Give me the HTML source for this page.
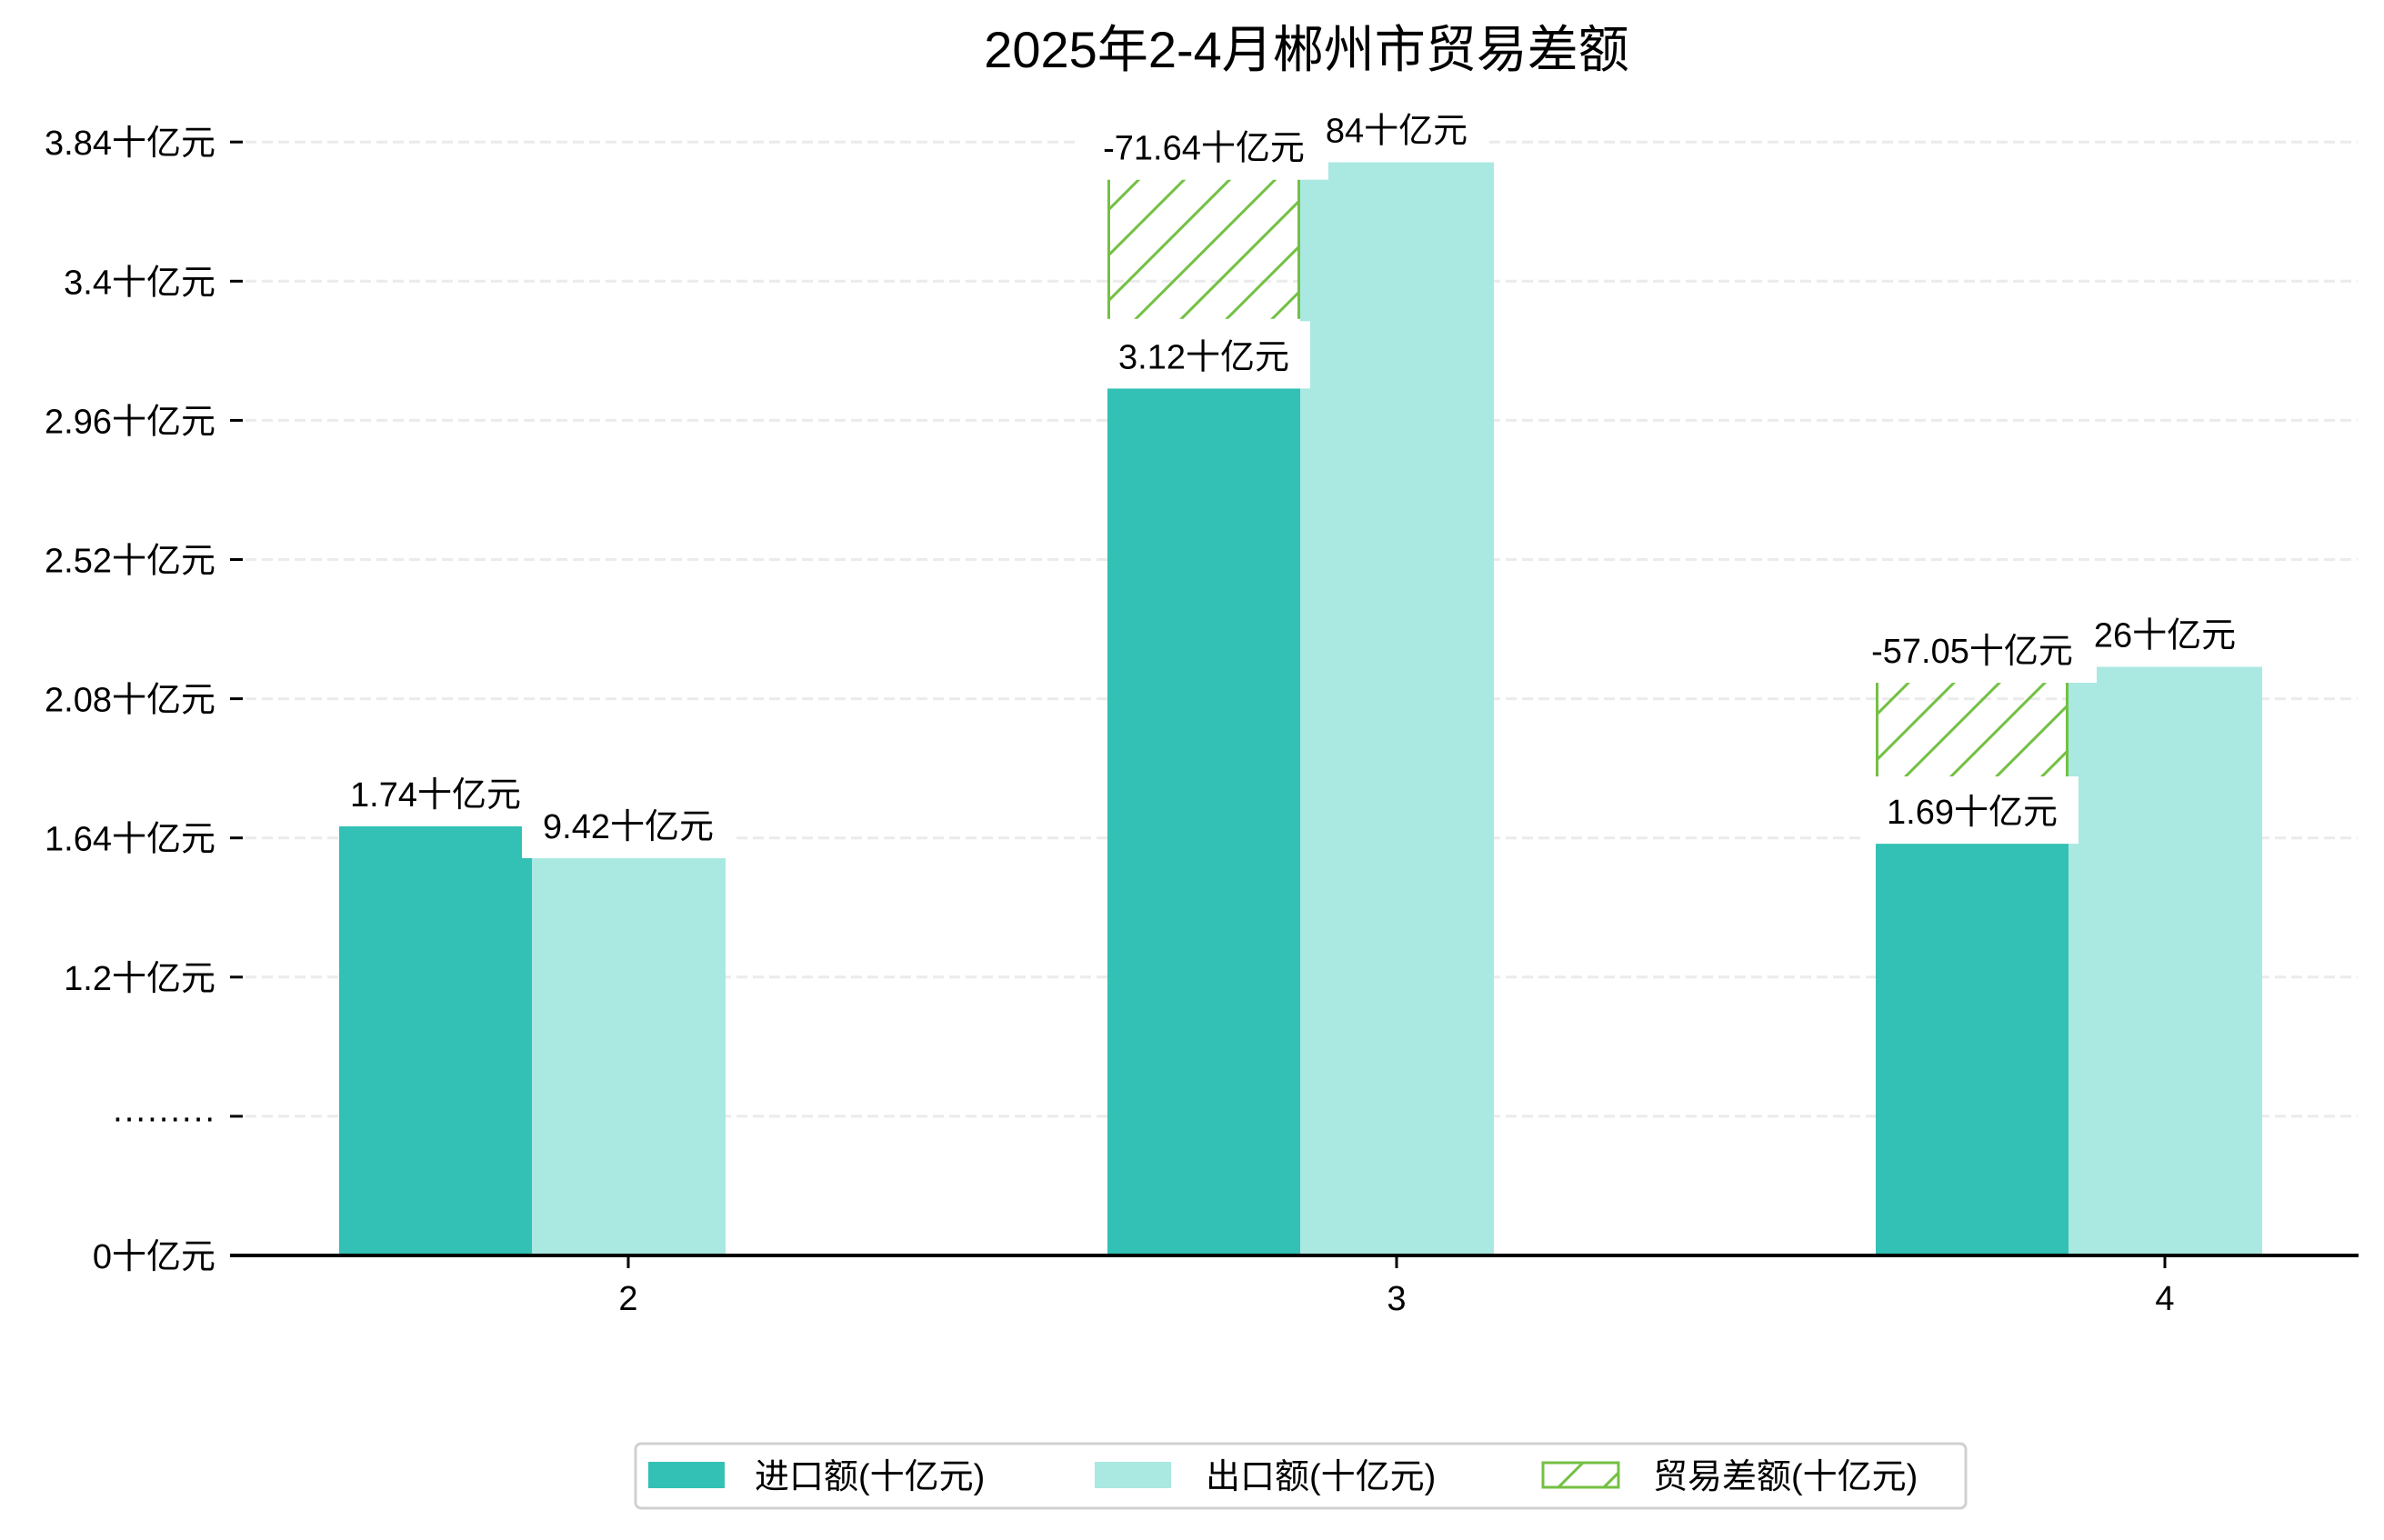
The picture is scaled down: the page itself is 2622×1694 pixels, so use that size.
<!DOCTYPE html>
<html><head><meta charset="utf-8"><style>
html,body{margin:0;padding:0;background:#fff}
svg text{font-family:"Liberation Sans","Noto Sans CJK SC",sans-serif}
</style></head><body>
<svg id="chart" width="2622" height="1689" xmlns="http://www.w3.org/2000/svg">
<defs>
<pattern id="hatch" patternUnits="userSpaceOnUse" width="50" height="50">
<path d="M-5,55 L55,-5 M-30,30 L30,-30 M20,80 L80,20" stroke="#74c043" stroke-width="3"/>
</pattern>
</defs>
<text x="1437" y="74" font-size="56" text-anchor="middle">2025年2-4月郴州市贸易差额</text>
<g id="grid"></g><g id="bars"></g><g id="labels"></g><g id="axes"></g>
<g>
<rect x="699" y="1588" width="1463" height="71" rx="6" fill="#fff" stroke="#d0d0d0" stroke-width="3"/>
<rect x="713" y="1608" width="84" height="29" fill="#32c1b4"/>
<text x="830" y="1637" font-size="38">进口额(十亿元)</text>
<rect x="1204" y="1608" width="84" height="29" fill="#aae8e2"/>
<text x="1326" y="1637" font-size="38">出口额(十亿元)</text>
<rect x="1697" y="1609" width="83" height="27" fill="url(#hatch)" stroke="#74c043" stroke-width="3"/>
<text x="1818" y="1637" font-size="38">贸易差额(十亿元)</text>
</g>
</svg>
<script>
const months = ["2","3","4"];
const importVals = [1.48, 2.99, 1.42];
const exportVals = [1.37, 3.77, 2.03];
const balanceTop = [null, 3.71, 1.975];
const balanceBottom = [null, 3.23, 1.646];
const importLabels = ["1.74十亿元","3.12十亿元","1.69十亿元"];
const exportLabels = ["9.42十亿元","84十亿元","26十亿元"];
const balanceLabels = [null,"-71.64十亿元","-57.05十亿元"];
const yTickLabels = ["0十亿元","·········","1.2十亿元","1.64十亿元","2.08十亿元","2.52十亿元","2.96十亿元","3.4十亿元","3.84十亿元"];
const yTickStep = 0.48;

const NS="http://www.w3.org/2000/svg";
const Y0=1381, PX_PER_TICK=153.1;
function y(v){return Y0 - v/yTickStep*PX_PER_TICK;}
function xTick(i){return 691 + i*845;}
function mk(tag,attrs,parent){const e=document.createElementNS(NS,tag);for(const k in attrs)e.setAttribute(k,attrs[k]);document.getElementById(parent).appendChild(e);return e;}

yTickLabels.forEach((t,i)=>{
  const v=i*yTickStep, yy=y(v);
  if(i>0){const g=mk('line',{x1:270,x2:2593,y1:yy,y2:yy,stroke:'#ebebeb','stroke-width':3,'stroke-dasharray':'12,6'},'grid');
  
  }
  const tm=mk('line',{x1:253,x2:267,y1:yy,y2:yy,stroke:'#000','stroke-width':3},'axes');
  
  
  const tx=mk('text',{x:237,y:yy+14,'font-size':38,'text-anchor':'end'},'axes');tx.textContent=t;
  
  
});
const ax=mk('line',{x1:253,x2:2594,y1:Y0,y2:Y0,stroke:'#000','stroke-width':4},'axes');



const BW=212;
function label(text,cx,top,boxBottom,name){
  const w=text.length*20+text.replace(/[0-9.\-·]/g,'').length*18+40;
  const r=mk('rect',{x:cx-w/2,y:top-74,width:w,height:boxBottom-(top-74),fill:'#fff'},'labels');
  
  
  const t=mk('text',{x:cx,y:top-22,'font-size':38,'text-anchor':'middle'},'labels');t.textContent=text;
  
  
}
months.forEach((m,i)=>{
  const cx=xTick(i);
  const ix=cx-318, ex=cx-106;
  const bi=mk('rect',{x:ix,y:y(importVals[i]),width:BW,height:Y0-y(importVals[i]),fill:'#32c1b4'},'bars');
  
  
  const be=mk('rect',{x:ex,y:y(exportVals[i]),width:BW+1,height:Y0-y(exportVals[i]),fill:'#aae8e2'},'bars');
  
  
  if(balanceTop[i]!==null){
    const t=y(balanceTop[i]), b=y(balanceBottom[i]);
    const bh=mk('rect',{x:ix,y:t,width:BW,height:b-t,fill:'url(#hatch)'},'bars');
    
    
    const l1=mk('line',{x1:ix+1.5,x2:ix+1.5,y1:t,y2:b,stroke:'#74c043','stroke-width':3},'bars');
    
    
    const l2=mk('line',{x1:ix+BW-1.5,x2:ix+BW-1.5,y1:t,y2:b,stroke:'#74c043','stroke-width':3},'bars');
    
    
  }
  const xt=mk('line',{x1:cx,x2:cx,y1:Y0,y2:Y0+14,stroke:'#000','stroke-width':3},'axes');
  
  
  const xl=mk('text',{x:cx,y:1441,'font-size':38,'text-anchor':'middle'},'axes');xl.textContent=m;
  
  
});
months.forEach((m,i)=>{
  const cx=xTick(i);
  const icx=cx-212, ecx=cx;
  if(balanceTop[i]!==null) label(balanceLabels[i],icx,y(balanceTop[i]),y(balanceTop[i]),'balance-label-'+m);
  label(importLabels[i],icx,y(importVals[i]),y(importVals[i]),'import-label-'+m);
  label(exportLabels[i],ecx,y(exportVals[i]),y(exportVals[i]),'export-label-'+m);
});
</script>
</body></html>
